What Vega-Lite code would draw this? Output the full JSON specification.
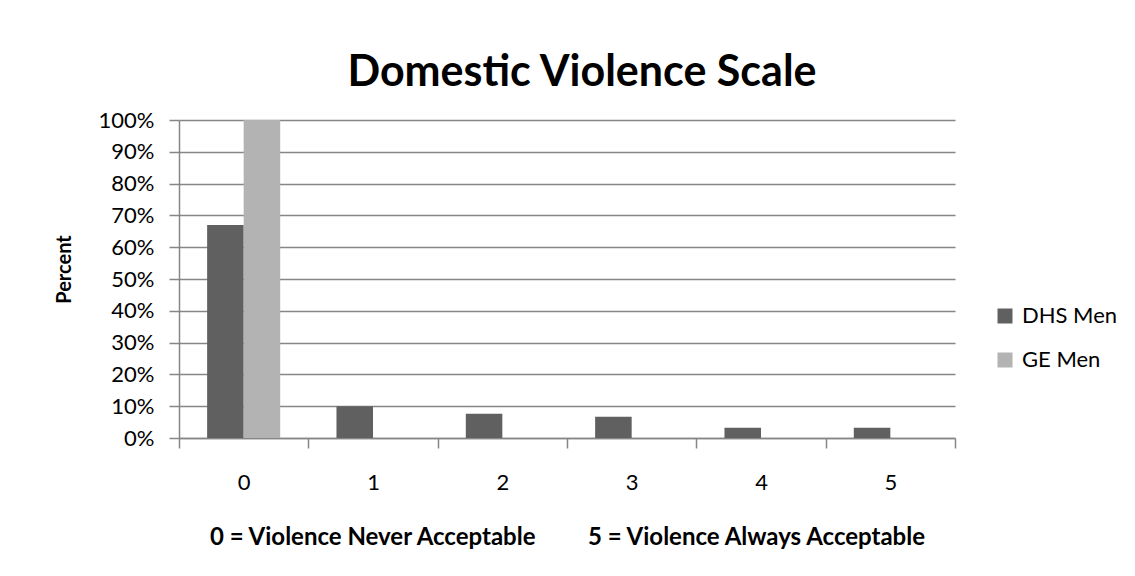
{
  "$schema": "https://vega.github.io/schema/vega-lite/v6.json",
  "width": 776,
  "height": 318,
  "autosize": "none",
  "padding": {"left": 179, "top": 120, "right": 180, "bottom": 138},
  "background": "white",
  "title": {
    "text": "Domestic Violence Scale",
    "font": "Lato",
    "fontSize": 43,
    "fontWeight": "bold",
    "color": "black",
    "anchor": "middle",
    "dx": 15,
    "offset": 14
  },
  "data": {
    "values": [
      {"score": "0", "series": "DHS Men", "value": 0.67},
      {"score": "0", "series": "GE Men", "value": 1.0},
      {"score": "1", "series": "DHS Men", "value": 0.10},
      {"score": "1", "series": "GE Men", "value": 0},
      {"score": "2", "series": "DHS Men", "value": 0.076},
      {"score": "2", "series": "GE Men", "value": 0},
      {"score": "3", "series": "DHS Men", "value": 0.067},
      {"score": "3", "series": "GE Men", "value": 0},
      {"score": "4", "series": "DHS Men", "value": 0.032},
      {"score": "4", "series": "GE Men", "value": 0},
      {"score": "5", "series": "DHS Men", "value": 0.032},
      {"score": "5", "series": "GE Men", "value": 0}
    ]
  },
  "mark": {"type": "bar"},
  "encoding": {
    "x": {
      "field": "score",
      "type": "nominal",
      "sort": null,
      "scale": {"paddingInner": 0, "paddingOuter": 0},
      "axis": {
        "title": "0 = Violence Never Acceptable\u00a0\u00a0\u00a0\u00a0\u00a0\u00a0\u00a0\u00a0 5 = Violence Always Acceptable",
        "titleFont": "Lato",
        "titleFontSize": 24,
        "titleFontWeight": "bold",
        "titleColor": "black",
        "titlePadding": 32,
        "labelAngle": 0,
        "labelFont": "Lato",
        "labelFontSize": 22,
        "labelColor": "black",
        "labelPadding": 24,
        "tickBand": "extent",
        "tickSize": 10,
        "tickColor": "#868686",
        "tickWidth": 1.5,
        "domainColor": "#868686",
        "domainWidth": 1.5,
        "grid": false
      }
    },
    "xOffset": {
      "field": "series",
      "type": "nominal",
      "scale": {"paddingInner": 0, "paddingOuter": 0.77}
    },
    "y": {
      "field": "value",
      "type": "quantitative",
      "scale": {"domain": [0, 1], "nice": false},
      "axis": {
        "title": "Percent",
        "titleFont": "Lato",
        "titleFontSize": 20,
        "titleFontWeight": "bold",
        "titleColor": "black",
        "titlePadding": 24,
        "titleY": 149,
        "values": [0, 0.1, 0.2, 0.3, 0.4, 0.5, 0.6, 0.7, 0.8, 0.9, 1.0],
        "format": ".0%",
        "labelFont": "Lato",
        "labelFontSize": 22,
        "labelColor": "black",
        "labelPadding": 15,
        "tickSize": 10,
        "tickColor": "#868686",
        "tickWidth": 1.5,
        "domainColor": "#868686",
        "domainWidth": 1.5,
        "grid": true,
        "gridColor": "#868686",
        "gridWidth": 1.5
      }
    },
    "color": {
      "field": "series",
      "type": "nominal",
      "scale": {"domain": ["DHS Men", "GE Men"], "range": ["#606060", "#b3b3b3"]},
      "legend": {
        "title": null,
        "orient": "none",
        "legendX": 815,
        "legendY": 185,
        "symbolType": "square",
        "symbolSize": 225,
        "symbolStrokeWidth": 0,
        "labelFont": "Lato",
        "labelFontSize": 22,
        "labelColor": "black",
        "labelOffset": 6,
        "rowPadding": 22
      }
    }
  },
  "config": {
    "view": {"stroke": null}
  }
}
